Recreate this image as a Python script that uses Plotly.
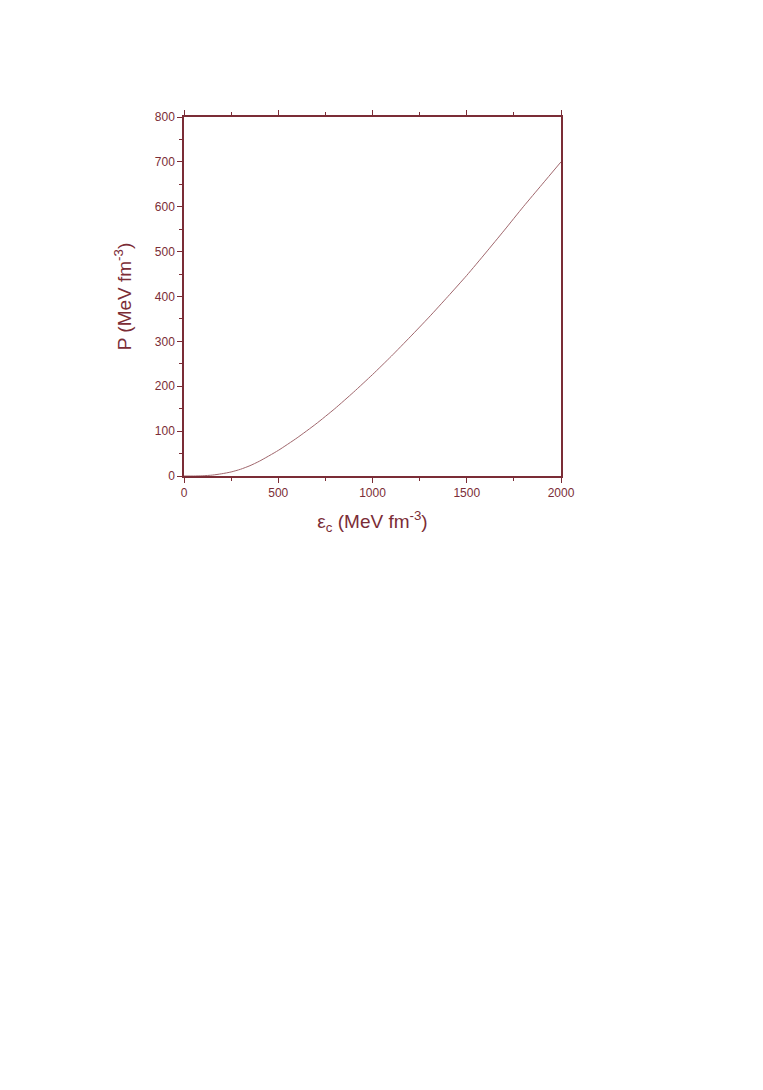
import plotly.graph_objects as go

# energy density (MeV fm^-3) and pressure (MeV fm^-3)
energy_density = [0, 50, 100, 150, 200, 250, 300, 350, 400, 500, 600, 700, 800,
                  900, 1000, 1100, 1200, 1300, 1400, 1500, 1600, 1700, 1800,
                  1900, 2000]
pressure = [0, 0, 0.5, 2, 5, 9, 15, 23, 33, 57, 85, 116, 150,
            187, 226, 267, 310, 354, 400, 447, 497, 548, 600,
            650, 700]

AXIS = '#7b2d36'
LINE = '#a0666c'
FONT = 'Liberation Sans, Arial, sans-serif'

fig = go.Figure()
fig.add_trace(go.Scatter(x=energy_density, y=pressure, mode='lines',
                         line=dict(color=LINE, width=1, shape='spline', smoothing=0.6),
                         showlegend=False, hoverinfo='skip'))

# the page body adds an 8px margin, so margins are set 8px short
fig.update_layout(
    width=763, height=1090,
    margin=dict(l=176, r=210, t=109, b=622),
    paper_bgcolor='white', plot_bgcolor='white',
    font=dict(family=FONT, color=AXIS, size=12),
    xaxis=dict(
        range=[0, 2000], tickvals=[0, 500, 1000, 1500, 2000],
        ticks='outside', ticklen=5, tickwidth=1, tickcolor=AXIS,
        minor=dict(dtick=250, ticks='outside', ticklen=3, tickcolor=AXIS),
        showline=True, linecolor=AXIS, linewidth=1.5, mirror='ticks',
        showgrid=False, zeroline=False,
        tickfont=dict(size=12, color=AXIS),
        title=dict(text='ε<sub>c</sub> (MeV fm<sup>-3</sup>)',
                   font=dict(size=19, color=AXIS), standoff=16),
    ),
    yaxis=dict(
        range=[0, 800], dtick=100,
        ticks='outside', ticklen=5, tickwidth=1, tickcolor=AXIS,
        minor=dict(dtick=50, ticks='outside', ticklen=3, tickcolor=AXIS),
        showline=True, linecolor=AXIS, linewidth=1.5, mirror=True,
        showgrid=False, zeroline=False,
        tickfont=dict(size=12, color=AXIS),
        title=dict(text='P (MeV fm<sup>-3</sup>)',
                   font=dict(size=19, color=AXIS), standoff=18),
    ),
)

fig.write_html("out.html")
